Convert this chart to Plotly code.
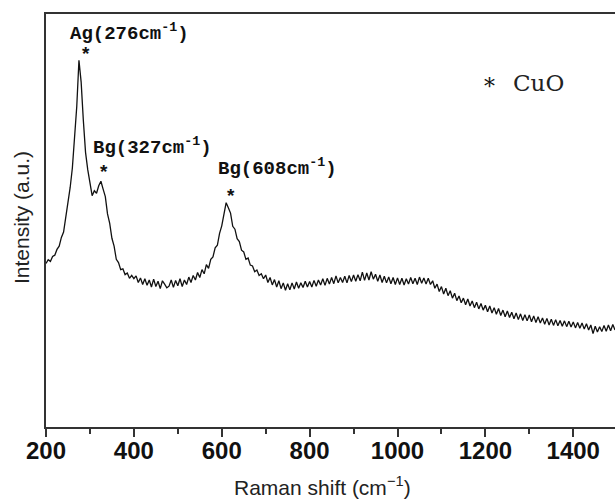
import plotly.graph_objects as go

# Raman shift (cm^-1), sampled every 5 cm^-1
raman_shift = list(range(200, 1500, 5))

intensity_200_395 = [39.6, 40.5, 40.1, 41.3, 41.6, 43.0, 43.8, 45.9, 47.2, 50.8,
                     53.6, 58.0, 62.7, 70.4, 77.6, 88.8, 83.5, 74.2, 66.5, 62.3,
                     58.6, 56.0, 57.2, 56.6, 58.4, 59.5, 57.6, 55.8, 51.6, 49.3,
                     45.7, 43.8, 40.6, 39.8, 38.1, 38.3, 36.9, 37.3, 36.0, 36.7]
intensity_400_595 = [35.9, 36.6, 35.0, 36.1, 34.5, 35.9, 34.3, 35.6, 33.9, 35.8,
                     34.0, 35.3, 33.5, 35.4, 34.6, 33.7, 34.1, 35.6, 33.8, 35.5,
                     34.2, 35.9, 34.0, 35.6, 34.5, 36.3, 35.0, 36.7, 35.6, 37.4,
                     36.2, 38.1, 37.1, 39.3, 38.4, 40.6, 41.2, 43.4, 44.0, 46.9]
intensity_600_795 = [48.7, 51.9, 54.3, 53.1, 51.8, 48.6, 47.9, 45.6, 44.9, 42.8,
                     42.4, 40.6, 40.9, 39.2, 39.0, 37.6, 38.0, 36.7, 37.1, 35.9,
                     36.8, 35.0, 36.2, 34.4, 35.7, 33.9, 35.4, 33.5, 34.9, 33.1,
                     34.7, 33.2, 34.9, 33.4, 35.1, 33.6, 34.9, 33.8, 35.3, 33.9]
intensity_800_995 = [35.2, 33.9, 35.5, 34.1, 35.6, 34.4, 35.9, 34.3, 36.0, 34.6,
                     36.2, 34.7, 36.6, 34.9, 36.2, 35.0, 36.5, 34.9, 36.7, 35.2,
                     36.8, 35.3, 36.9, 35.4, 37.5, 35.5, 37.3, 35.6, 37.6, 35.8,
                     37.0, 35.3, 36.8, 35.0, 36.5, 34.9, 36.3, 34.7, 36.2, 34.5]
intensity_1000_1195 = [36.1, 34.5, 36.0, 34.4, 35.9, 34.6, 36.2, 34.7, 36.0, 34.5,
                       36.3, 34.8, 36.1, 34.6, 36.0, 34.5, 35.4, 33.6, 34.6, 32.8,
                       34.0, 32.2, 33.6, 31.8, 33.0, 31.2, 32.4, 30.6, 31.7, 30.1,
                       31.2, 29.6, 31.0, 29.3, 30.5, 28.9, 30.2, 28.6, 29.9, 28.3]
intensity_1200_1395 = [29.5, 27.9, 29.3, 27.6, 28.9, 27.3, 28.7, 27.0, 28.3, 26.7,
                       28.1, 26.5, 27.8, 26.2, 27.6, 26.0, 27.4, 25.8, 27.2, 25.7,
                       27.1, 25.5, 26.9, 25.3, 26.7, 25.2, 26.4, 24.9, 26.3, 24.7,
                       26.1, 24.6, 26.0, 24.5, 25.8, 24.4, 25.7, 24.3, 25.6, 24.2]
intensity_1400_1495 = [25.4, 24.0, 25.3, 23.9, 25.2, 23.7, 25.0, 23.5, 24.7, 22.6,
                       24.4, 23.0, 24.3, 23.1, 24.6, 23.2, 24.7, 23.3, 24.8, 23.5]

intensity = (intensity_200_395 + intensity_400_595 + intensity_600_795 +
             intensity_800_995 + intensity_1000_1195 + intensity_1200_1395 +
             intensity_1400_1495)

# Peak labels
peak_labels = ["Ag(276cm<sup>-1</sup>)", "Bg(327cm<sup>-1</sup>)", "Bg(608cm<sup>-1</sup>)"]
label_x = [389, 442, 726]
label_y = [95.6, 68.0, 62.9]
star_x = [291, 330, 619]
star_y = [90.0, 61.6, 55.8]

x_tickvals = [200, 400, 600, 800, 1000, 1200, 1400]

fig = go.Figure()
fig.add_trace(go.Scatter(x=raman_shift, y=intensity, mode="lines",
                         line=dict(color="#111111", width=1.3),
                         showlegend=False, hoverinfo="skip"))

for txt, lx, ly in zip(peak_labels, label_x, label_y):
    fig.add_annotation(x=lx, y=ly, text=txt, showarrow=False,
                       font=dict(family="Liberation Mono", size=19, color="#111111",
                                 weight="bold"),
                       xanchor="center", yanchor="middle")
for sx, sy in zip(star_x, star_y):
    fig.add_annotation(x=sx, y=sy, text="*", showarrow=False,
                       font=dict(family="Liberation Mono", size=19, color="#111111",
                                 weight="bold"),
                       xanchor="center", yanchor="middle")

fig.add_annotation(x=1210, y=82.5, text="*", showarrow=False,
                   font=dict(family="DejaVu Serif", size=22, color="#111111"),
                   xanchor="center", yanchor="middle")
fig.add_annotation(x=1320, y=83.3, text="CuO", showarrow=False,
                   font=dict(family="DejaVu Serif", size=23, color="#222222"),
                   xanchor="center", yanchor="middle")

# axis titles
fig.add_annotation(xref="paper", yref="paper", x=(322 - 46) / 569, y=-(486 - 427) / 413,
                   text="Raman shift (cm<sup>−1</sup>)", showarrow=False,
                   font=dict(family="Liberation Sans", size=21, color="#222222"),
                   xanchor="center", yanchor="middle")
fig.add_annotation(xref="paper", yref="paper", x=-(46 - 21) / 569, y=(427 - 218) / 413,
                   text="Intensity (a.u.)", showarrow=False, textangle=-90,
                   font=dict(family="Liberation Sans", size=21, color="#222222"),
                   xanchor="center", yanchor="middle")

fig.update_layout(
    width=615, height=500,
    margin=dict(l=46, r=0, t=14, b=73),
    paper_bgcolor="white", plot_bgcolor="white",
    font=dict(family="Liberation Sans", color="#111111"),
)
fig.update_xaxes(range=[200, 1495], tickvals=x_tickvals,
                 ticktext=[str(v) for v in x_tickvals],
                 showline=True, linecolor="#333333", linewidth=1.5, mirror=True,
                 ticks="outside", ticklen=8, tickwidth=1.5, tickcolor="#333333",
                 ticklabelstandoff=-7,
                 minor=dict(dtick=100, tick0=200, ticks="outside", ticklen=5,
                            tickwidth=1.5, tickcolor="#333333"),
                 tickfont=dict(family="Liberation Sans", size=24, color="#111111", weight="bold"),
                 showgrid=False, zeroline=False, automargin=False)
fig.update_yaxes(range=[0, 100], showticklabels=False, ticks="",
                 showline=True, linecolor="#333333", linewidth=1.5,
                 showgrid=False, zeroline=False, automargin=False)

fig.write_html("out.html", config={"displayModeBar": False},
               post_script="document.body.style.margin='0';document.body.style.overflow='hidden';")
